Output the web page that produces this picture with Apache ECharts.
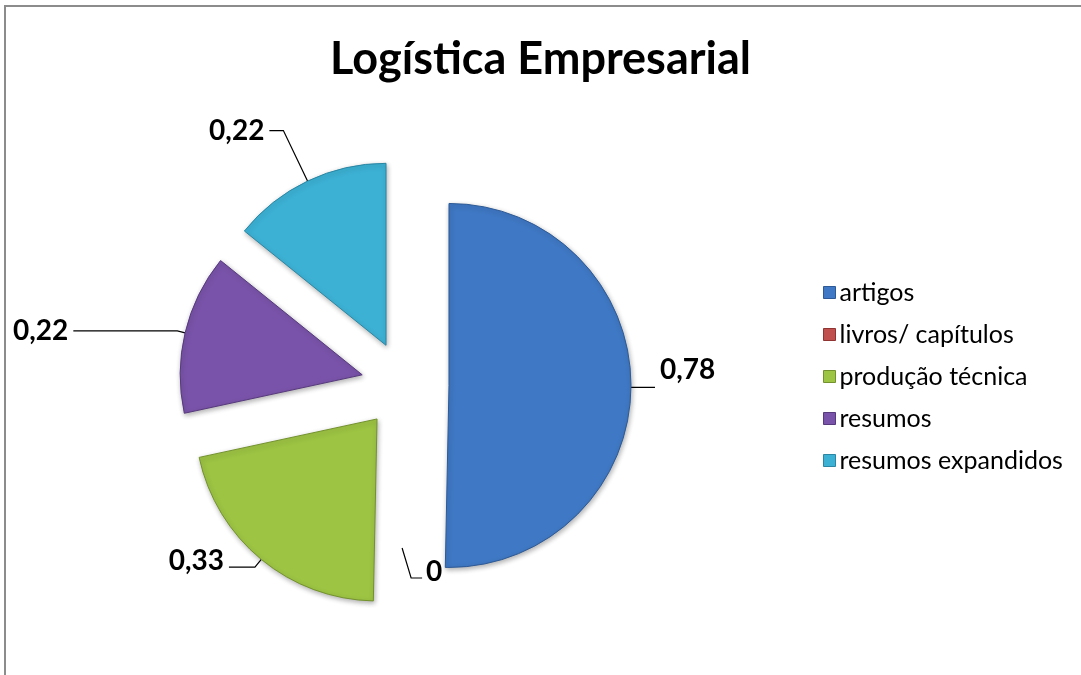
<!DOCTYPE html>
<html>
<head>
<meta charset="utf-8">
<script src="https://cdn.jsdelivr.net/npm/echarts@6/dist/echarts.min.js"></script>
<style>
  html, body { margin: 0; padding: 0; background: #fff; }
  #main { width: 1081px; height: 675px; }
</style>
</head>
<body>
<div id="main"></div>
<script>
// categorias e valores
const categorias = ['artigos', 'livros/ capítulos', 'produção técnica', 'resumos', 'resumos expandidos'];
const valores = [0.78, 0, 0.33, 0.22, 0.22];
// cor base e borda
const cores = ['#3f78c4', '#c0504d', '#9dc443', '#7953a9', '#3cb1d4'];
const bordas = ['#2d5a96', '#8f3431', '#73922d', '#57397d', '#2a86a3'];

// comprimentos das linhas de chamada [length, length2]
const linhas = [[16, 8], [10, 10], [10, 26], [8, 104], [56, 14]];

const cx = 405, cy = 385, raio = 182, afastamento = 44;

const myChart = echarts.init(document.getElementById('main'));
const dados = categorias.map((nome, i) => ({
  name: nome,
  value: valores[i],
  selected: true,
  itemStyle: {
    color: cores[i],
    borderColor: bordas[i],
    borderWidth: valores[i] === 0 ? 0 : 1,
    shadowBlur: 5,
    shadowOffsetX: 1,
    shadowOffsetY: 2,
    shadowColor: 'rgba(0,0,0,0.3)'
  },
  labelLine: { length: linhas[i][0], length2: linhas[i][1] }
}));

const option = {
  backgroundColor: '#fff',
  title: {
    text: 'Logística Empresarial',
    left: 'center',
    top: 32,
    textStyle: { fontFamily: 'Lato', fontWeight: 'bold', fontSize: 45, color: '#000' }
  },
  legend: {
    orient: 'vertical',
    left: 818,
    top: 275,
    itemWidth: 12,
    itemHeight: 12,
    itemGap: 17,
    icon: 'rect',
    data: categorias.map((n, i) => ({ name: n, itemStyle: { color: cores[i], borderColor: bordas[i], borderWidth: 1 } })),
    textStyle: { fontFamily: 'Lato', fontSize: 25, color: '#000', lineHeight: 25, padding: [0, 0, 0, -1] }
  },
  graphic: [{
    type: 'rect',
    shape: { x: 5, y: 6, width: 1100, height: 700 },
    style: { fill: 'none', stroke: '#8c8c8c', lineWidth: 2 },
    silent: true
  }],
  series: [{
    type: 'pie',
    center: [cx, cy],
    radius: raio,
    startAngle: 90,
    selectedMode: 'multiple',
    selectedOffset: afastamento,
    avoidLabelOverlap: false,
    data: dados,
    label: {
      show: true,
      position: 'outside',
      formatter: p => String(p.value).replace('.', ','),
      fontFamily: 'Lato',
      fontWeight: 'bold',
      fontSize: 28,
      color: '#000'
    },
    labelLine: {
      show: true,
      lineStyle: { color: '#000', width: 1.2 }
    },
    // ajustes finos de rótulos, como no original
    labelLayout: function (p) {
      if (p.dataIndex === 0) return { dy: -17 };
      if (p.dataIndex === 2) return { dy: -6 };
      if (p.dataIndex !== 1) return {};
      // o valor zero fica no vão entre as fatias
      return {
        dx: 57, dy: -49,
        labelLinePoints: [[cx - 2, cy + 119], [cx + 7, cy + 149], [cx + 18, cy + 149]]
      };
    },
    emphasis: { disabled: true }
  }]
};
myChart.setOption(option);
window.onresize = myChart.resize;
</script>
</body>
</html>
